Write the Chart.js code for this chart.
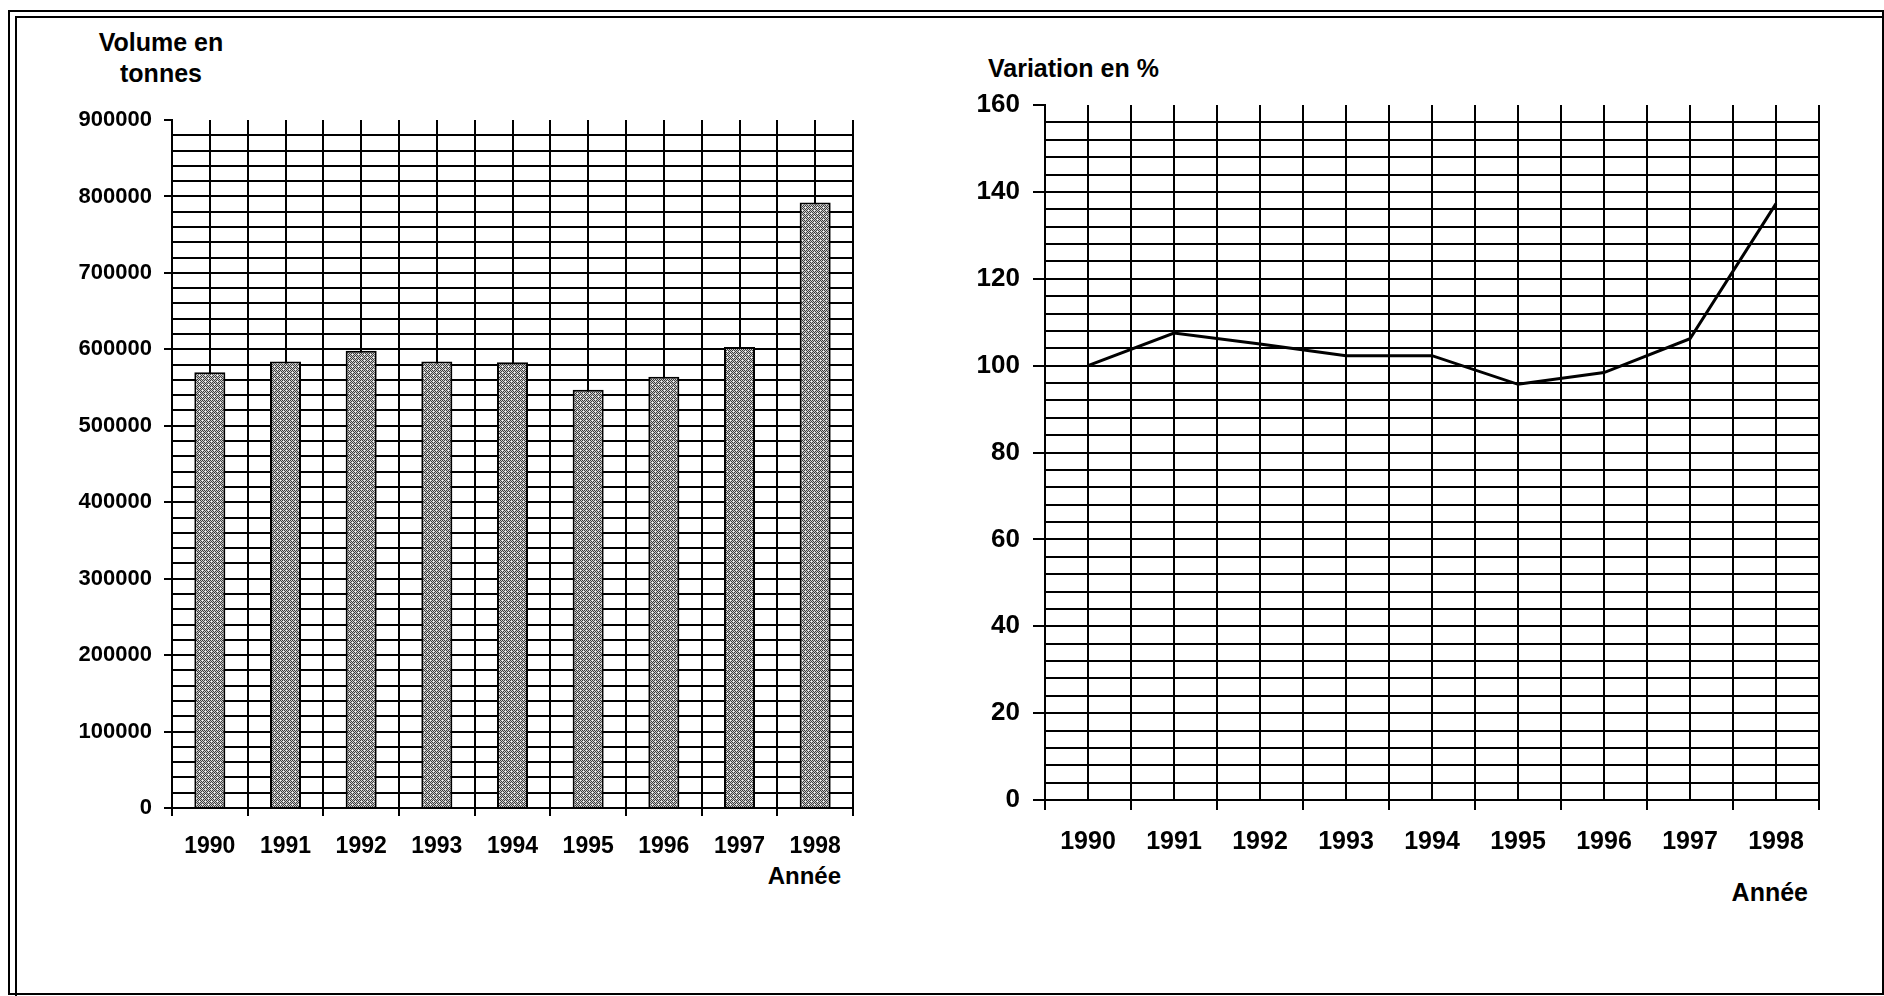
<!DOCTYPE html>
<html>
<head>
<meta charset="utf-8">
<script src="https://cdn.jsdelivr.net/npm/chart.js@4.4.0/dist/chart.umd.min.js"></script>
<style>
  body { margin: 0; background: #fff; width: 1884px; height: 996px; overflow: hidden; position: relative;
         font-family: "Liberation Sans", Arial, sans-serif; font-weight: bold; color: #000; }
  .frame { position: absolute; left: 8px; top: 10px; width: 1876px; height: 985px; box-sizing: border-box; border: 2px solid #000; }
  .inner { position: absolute; left: 15px; top: 16px; width: 1869px; height: 978px; border-left: 2px solid #000; border-top: 2px solid #000; }
  .lbl { position: absolute; white-space: nowrap; line-height: 1; }
  canvas { position: absolute; }
</style>
</head>
<body>
<div class="frame"></div>
<div class="inner"></div>

<div class="lbl" style="left:61px; top:27px; width:200px; text-align:center; font-size:25px; line-height:31px;">Volume en<br>tonnes</div>
<div class="lbl" style="left:988px; top:56px; font-size:25px;">Variation en %</div>
<div class="lbl" style="right:1043px; top:864px; font-size:24px;">Année</div>
<div class="lbl" style="right:76px; top:880px; font-size:25px;">Année</div>

<canvas id="volumeChart" width="880" height="900" style="left:0; top:0;"></canvas>
<canvas id="variationChart" width="984" height="900" style="left:900px; top:0;"></canvas>

<script>
const years = ["1990", "1991", "1992", "1993", "1994", "1995", "1996", "1997", "1998"];
const volumes = [570000, 584000, 598000, 584000, 583000, 547000, 564000, 603000, 792000];
const variation = [100, 107.5, 105, 102.3, 102.3, 95.7, 98.4, 106.2, 137.3];

const volumeMax = 900000, volumeStep = 20000, volumeLabelStep = 100000;
const variationMax = 160, variationStep = 4, variationLabelStep = 20;

const FONT = "'Liberation Sans', Arial, sans-serif";
const INK = "#000";
const CLEAR = "rgba(0,0,0,0)";

function isMultiple(v, step) {
  return Math.abs(v / step - Math.round(v / step)) < 1e-6;
}

// grey stipple used to fill the bars
function stipple() {
  const c = document.createElement("canvas");
  c.width = 6; c.height = 6;
  const g = c.getContext("2d");
  g.fillStyle = "#cccccc";
  g.fillRect(0, 0, 6, 6);
  g.fillStyle = "#3c3c3c";
  for (let y = 0; y < 6; y++)
    for (let x = 0; x < 6; x++)
      if ((x + y) % 2 === 0) g.fillRect(x, y, 1, 1);
  g.fillStyle = "#f2f2f2";
  g.fillRect(4, 0, 1, 1);
  g.fillRect(1, 3, 1, 1);
  return g.createPattern(c, "repeat");
}

function yearAxis(fontSize, tickLen, pad, height) {
  return {
    type: "linear",
    min: -0.5,
    max: years.length - 0.5,
    offset: false,
    afterFit: s => { s.height = height; },
    ticks: {
      stepSize: 0.5,
      autoSkip: false,
      maxRotation: 0,
      padding: pad,
      color: "#000",
      font: { family: FONT, size: fontSize, weight: "bold" },
      callback: v => Number.isInteger(v) ? years[v] : ""
    },
    grid: {
      offset: false,
      color: INK,
      lineWidth: 2,
      tickLength: tickLen,
      tickColor: ctx => ctx.tick && !Number.isInteger(ctx.tick.value) ? "#000" : CLEAR
    },
    border: { color: "#000", width: 2 }
  };
}

function valueAxis(max, step, labelStep, fontSize, tickLen, pad, width) {
  return {
    min: 0,
    max: max,
    afterFit: s => { s.width = width; },
    ticks: {
      stepSize: step,
      maxTicksLimit: 100,
      autoSkip: false,
      padding: pad,
      color: "#000",
      font: { family: FONT, size: fontSize, weight: "bold" },
      callback: v => isMultiple(v, labelStep) ? String(v) : ""
    },
    grid: {
      color: ctx => ctx.tick && ctx.tick.value === max ? CLEAR : INK,
      lineWidth: 2,
      tickLength: tickLen,
      tickColor: ctx => ctx.tick && isMultiple(ctx.tick.value, labelStep) ? "#000" : CLEAR
    },
    border: { color: "#000", width: 2 }
  };
}

// Volume (Bar)
new Chart(document.getElementById("volumeChart"), {
  type: "bar",
  data: {
    datasets: [{
      data: volumes.map((v, i) => ({ x: i, y: v })),
      backgroundColor: stipple(),
      borderColor: "#000",
      borderWidth: 2,
      categoryPercentage: 1,
      barPercentage: 0.82
    }]
  },
  options: {
    responsive: false,
    animation: false,
    layout: { padding: { top: 120, right: 27, bottom: 32, left: 0 } },
    plugins: { legend: { display: false }, tooltip: { enabled: false } },
    scales: {
      x: yearAxis(23, 8, 17, 60),
      y: valueAxis(volumeMax, volumeStep, volumeLabelStep, 22, 8, 12, 172)
    }
  }
});

// Variation (Line)
new Chart(document.getElementById("variationChart"), {
  type: "line",
  data: {
    datasets: [{
      data: variation.map((v, i) => ({ x: i, y: v })),
      borderColor: "#000",
      borderWidth: 3,
      pointRadius: 0,
      tension: 0,
      fill: false
    }]
  },
  options: {
    responsive: false,
    animation: false,
    layout: { padding: { top: 105, right: 65, bottom: 40, left: 0 } },
    plugins: { legend: { display: false }, tooltip: { enabled: false } },
    scales: {
      x: yearAxis(25, 10, 17, 60),
      y: valueAxis(variationMax, variationStep, variationLabelStep, 26, 12, 13, 145)
    }
  }
});
</script>
</body>
</html>
